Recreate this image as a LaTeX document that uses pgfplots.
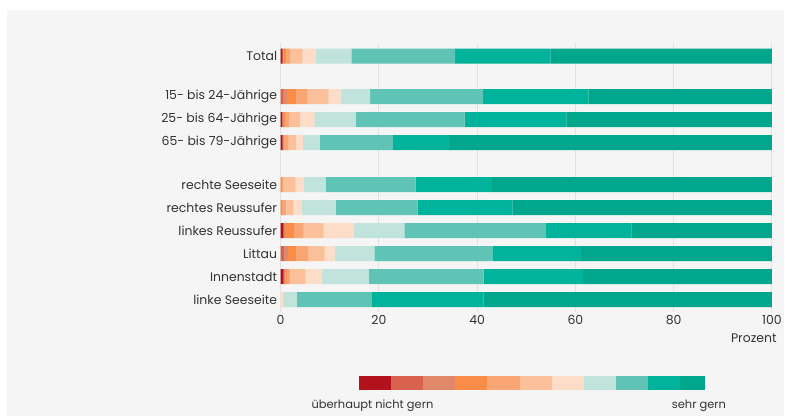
\documentclass[border=0pt]{standalone}
\usepackage{pgfplots}
\pgfplotsset{compat=1.18}
\usepackage{pgfplotstable}
\usepackage{fontspec}
\setmainfont{Poppins}
\definecolor{bgc}{HTML}{F4F5F4}
\definecolor{gridc}{HTML}{E0E1E0}
\definecolor{txt}{HTML}{333333}
\definecolor{c1}{HTML}{B2121B}
\definecolor{c2}{HTML}{D9624F}
\definecolor{c3}{HTML}{E08868}
\definecolor{c4}{HTML}{F98C47}
\definecolor{c5}{HTML}{F9A674}
\definecolor{c6}{HTML}{FCC09A}
\definecolor{c7}{HTML}{FDDDC8}
\definecolor{c8}{HTML}{C0E4DC}
\definecolor{c9}{HTML}{5FC4B5}
\definecolor{c10}{HTML}{00B39A}
\definecolor{c11}{HTML}{00A78D}
\pgfplotstableread{
y c1 c2 c3 c4 c5 c6 c7 c8 c9 c10 c11
10.6 0.3 0.15 0.1 0.7 0.8 2.45 2.7 7.2 21.1 19.4 45.1
8.83 0 0.5 0.8 1.8 2.3 4.4 2.4 6.0 23.0 21.5 37.3
7.83 0.3 0.1 0.1 0.5 0.8 2.1 3.0 8.35 22.2 20.7 41.85
6.83 0.4 0 0.05 0.35 0.85 1.5 1.4 3.4 14.9 11.6 65.55
5 0 0 0 0.3 0.2 2.55 1.65 4.45 18.35 15.5 57.0
4 0 0 0 0.3 0.9 1.4 1.65 6.95 16.7 19.3 52.8
3 0.5 0.15 0.25 1.95 1.85 4.05 6.1 10.35 28.7 17.5 28.6
2 0 0.8 0.7 1.75 2.45 3.25 2.05 8.1 24.0 18.0 38.9
1 0.5 0.3 0.2 0.3 0.6 3.2 3.25 9.55 23.4 20.3 38.4
0 0 0 0 0 0 0 0.45 2.8 15.25 22.8 58.7
}\datatable
\begin{document}
\begin{tikzpicture}[x=1bp,y=1bp]
\fill[white] (0,0) rectangle (785,417);
\fill[bgc] (7,0) rectangle (785,407);
\begin{axis}[
  at={(281bp,105bp)}, anchor=south west,
  scale only axis, width=492bp, height=269bp,
  xmin=0, xmax=100, ymin=-0.52, ymax=11.17,
  xbar stacked, bar width=15bp,
  axis line style={draw=none},
  major tick length=0pt,
  xtick={0,20,40,60,80,100},
  ytick={10.6,8.83,7.83,6.83,5,4,3,2,1,0},
  yticklabels={Total,15- bis 24-Jährige,25- bis 64-Jährige,65- bis 79-Jährige,rechte Seeseite,rechtes Reussufer,linkes Reussufer,Littau,Innenstadt,linke Seeseite},
  xmajorgrids, grid style={draw=gridc, line width=1.2bp},
  ticklabel style={font=\fontsize{12.5}{15}\selectfont, text=txt},
  /pgf/number format/assume math mode=true,
  every axis plot/.append style={draw=none},
]
\foreach \i in {1,...,11}{
  \edef\tmp{\noexpand\addplot[fill=c\i, draw=none] table[x=c\i, y=y] {\noexpand\datatable};}
  \tmp
}
\end{axis}
\node[anchor=east, text=txt, font=\fontsize{12.5}{15}\selectfont, inner sep=0] at (778,78) {Prozent};
\foreach \i/\c in {0/c1,1/c2,2/c3,3/c4,4/c5,5/c6,6/c7,7/c8,8/c9,9/c10}{
  \fill[\c] ({359.3+32.2*\i},26.3) rectangle ({359.3+32.2*(\i+1)},40.3);
}
\fill[c11] (681.3,26.3) rectangle (706,40.3);
\node[text=txt, font=\fontsize{11.5}{14}\selectfont, inner sep=0] at (373,11) {überhaupt nicht gern};
\node[text=txt, font=\fontsize{11.5}{14}\selectfont, inner sep=0] at (700,11) {sehr gern};
\end{tikzpicture}
\end{document}
